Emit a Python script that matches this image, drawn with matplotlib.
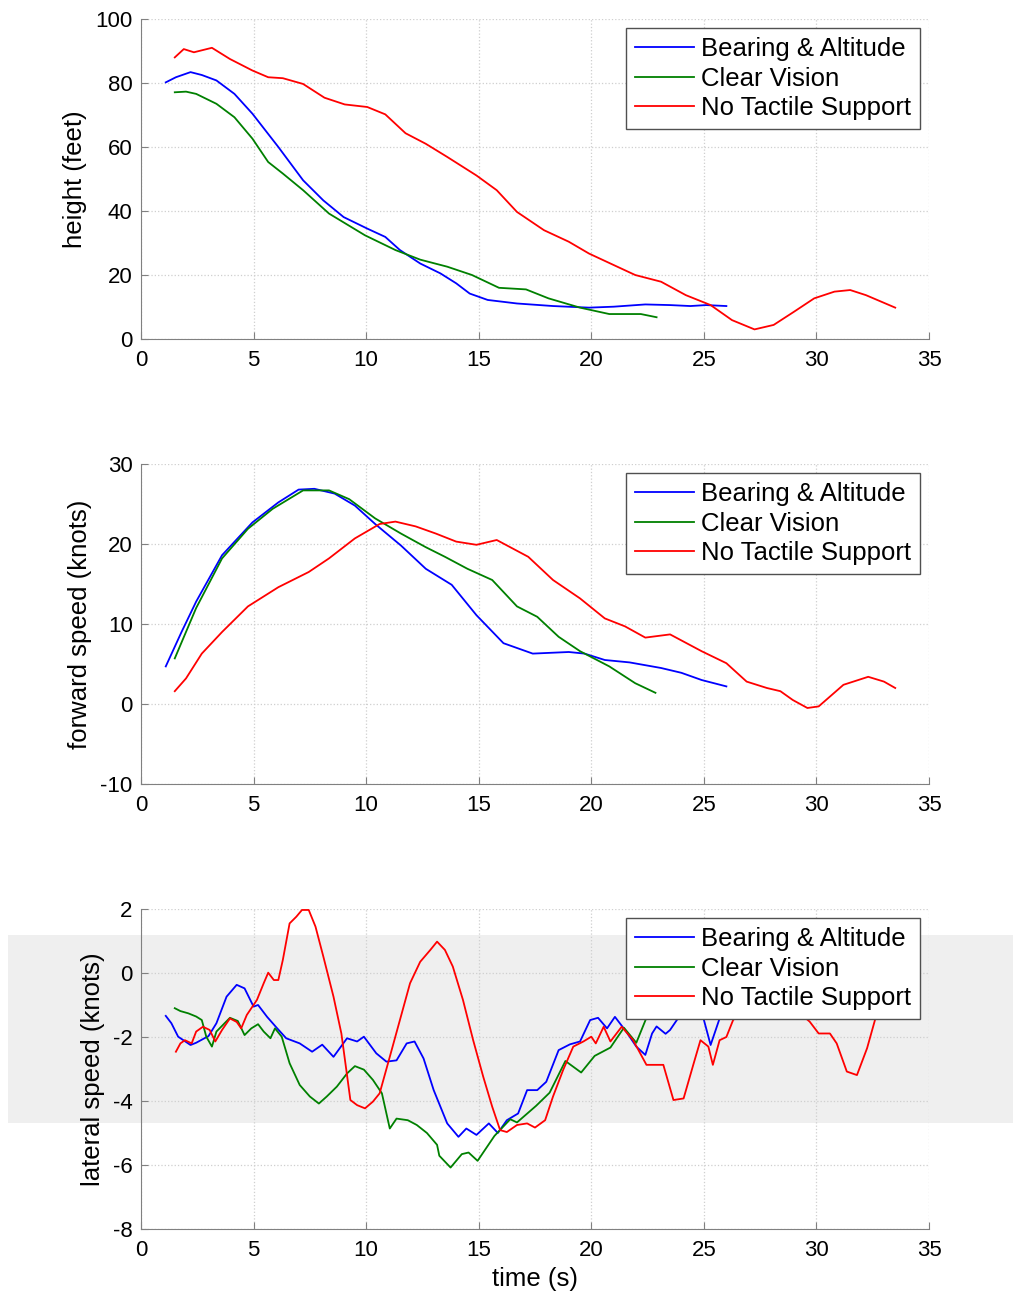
import numpy as np
import matplotlib
matplotlib.use('Agg')
import matplotlib.pyplot as plt
from matplotlib.patches import Rectangle

plt.rcParams['font.family'] = ['Liberation Sans', 'DejaVu Sans']
plt.rcParams['axes.unicode_minus'] = False

labels = ['Bearing & Altitude', 'Clear Vision', 'No Tactile Support']
colors = ['#0000ff', '#008000', '#ff0000']

# height (feet)
h_t_bear = [1.1, 1.55, 2.2, 2.7, 3.35, 4.15, 4.95, 6.1, 7.2, 8.1, 9.0, 10.05, 10.85, 11.5, 12.4,
            13.3, 14.0, 14.6, 15.4, 16.7, 18.3, 19.9, 21.0, 22.4, 23.5, 24.4, 25.1, 26.0]
h_bear = [80.2, 81.8, 83.4, 82.5, 80.8, 76.6, 70.4, 60.0, 49.6, 43.3, 38.1, 34.5, 31.9, 27.8, 23.6,
          20.5, 17.4, 14.2, 12.2, 11.1, 10.3, 9.8, 10.1, 10.8, 10.6, 10.3, 10.6, 10.3]
h_t_clear = [1.5, 2.0, 2.45, 3.35, 4.15, 4.95, 5.65, 6.3, 7.2, 8.35, 9.95, 11.3, 12.4, 13.6, 14.7,
             15.9, 17.1, 18.1, 19.5, 20.8, 22.2, 22.9]
h_clear = [77.1, 77.3, 76.6, 73.5, 69.3, 62.6, 55.3, 51.7, 46.5, 39.2, 32.4, 27.8, 24.8, 22.6, 20.0,
           16.0, 15.5, 12.7, 9.8, 7.8, 7.8, 6.8]
h_t_none = [1.5, 1.9, 2.35, 3.15, 3.95, 4.95, 5.65, 6.3, 7.2, 8.15, 9.05, 10.05, 10.85, 11.75, 12.65,
            13.6, 14.9, 15.8, 16.7, 17.9, 19.0, 19.9, 21.0, 21.95, 23.1, 24.2, 25.3, 26.25, 27.25,
            28.1, 29.0, 29.9, 30.8, 31.5, 32.2, 33.5]
h_none = [88.0, 90.6, 89.6, 91.0, 87.5, 83.9, 81.8, 81.5, 79.7, 75.4, 73.3, 72.5, 70.2, 64.3, 61.0,
          56.9, 51.1, 46.5, 39.7, 34.0, 30.4, 26.7, 23.1, 20.0, 17.9, 13.7, 10.6, 5.9, 3.0,
          4.4, 8.5, 12.7, 14.8, 15.3, 13.7, 9.8]

# forward speed (knots)
f_t_bear = [1.1, 1.8, 2.45, 3.6, 4.95, 6.1, 7.0, 7.7, 8.6, 9.5, 10.4, 11.55, 12.65, 13.8, 14.9,
            16.1, 17.4, 19.0, 19.7, 20.6, 21.7, 23.1, 24.0, 24.9, 26.0]
f_bear = [4.7, 9.0, 12.8, 18.6, 22.7, 25.2, 26.8, 26.9, 26.3, 24.8, 22.5, 19.8, 16.9, 14.9, 11.1,
          7.6, 6.3, 6.5, 6.3, 5.5, 5.2, 4.5, 3.9, 3.0, 2.2]
f_t_clear = [1.5, 2.45, 3.6, 4.75, 5.85, 7.2, 8.35, 9.25, 10.4, 11.55, 12.65, 13.5, 14.5, 15.6,
             16.7, 17.6, 18.55, 19.5, 20.8, 21.95, 22.85]
f_clear = [5.7, 12.0, 18.2, 21.9, 24.4, 26.7, 26.7, 25.6, 23.2, 21.3, 19.6, 18.4, 16.9, 15.5,
           12.2, 10.9, 8.4, 6.6, 4.7, 2.6, 1.4]
f_t_none = [1.5, 2.0, 2.7, 3.6, 4.75, 6.1, 7.45, 8.35, 9.5, 10.6, 11.3, 12.2, 13.1, 14.0, 14.9,
            15.8, 17.2, 18.3, 19.5, 20.6, 21.5, 22.4, 23.5, 24.9, 26.0, 26.9, 27.8, 28.4, 28.95,
            29.6, 30.1, 31.2, 32.3, 33.0, 33.5]
f_none = [1.6, 3.2, 6.3, 9.0, 12.2, 14.6, 16.5, 18.2, 20.7, 22.5, 22.8, 22.2, 21.3, 20.3, 19.9,
          20.5, 18.4, 15.5, 13.2, 10.7, 9.7, 8.3, 8.7, 6.6, 5.1, 2.8, 2.0, 1.6, 0.5,
          -0.5, -0.3, 2.4, 3.4, 2.8, 2.0]

# lateral speed (knots)
l_t_bear = [1.1, 1.35, 1.65, 2.2, 2.45, 3.0, 3.35, 3.8, 4.25, 4.6, 5.0, 5.2, 5.6, 6.05, 6.45, 7.05,
            7.6, 8.05, 8.55, 9.15, 9.6, 9.9, 10.45, 10.9, 11.35, 11.8, 12.15, 12.55, 13.0, 13.6,
            14.1, 14.45, 14.9, 15.45, 15.85, 16.25, 16.75, 17.15, 17.6, 18.0, 18.55, 19.05, 19.5,
            19.95, 20.3, 20.7, 21.05, 21.55, 22.0, 22.4, 22.7, 22.9, 23.3, 23.5, 23.8, 24.3, 24.9,
            25.3, 25.7, 26.0]
l_bear = [-1.34, -1.57, -1.99, -2.25, -2.18, -1.97, -1.57, -0.74, -0.37, -0.48, -1.05, -1.0,
          -1.37, -1.73, -2.04, -2.2, -2.46, -2.24, -2.62, -2.04, -2.14, -1.99, -2.51, -2.77, -2.73,
          -2.2, -2.14, -2.67, -3.66, -4.7, -5.12, -4.86, -5.06, -4.7, -5.0, -4.6, -4.39, -3.66,
          -3.66, -3.4, -2.41, -2.23, -2.14, -1.47, -1.4, -1.73, -1.37, -1.83, -2.3, -2.56, -1.89,
          -1.67, -1.9, -1.78, -1.47, -1.0, -1.2, -2.25, -1.42, -1.1]
l_t_clear = [1.5, 1.75, 2.1, 2.45, 2.7, 2.9, 3.15, 3.35, 3.95, 4.3, 4.6, 4.9, 5.2, 5.45, 5.75,
             5.95, 6.25, 6.6, 7.05, 7.5, 7.9, 8.25, 8.7, 9.15, 9.5, 9.9, 10.3, 10.7, 11.05, 11.35,
             11.85, 12.25, 12.7, 13.15, 13.25, 13.75, 14.25, 14.55, 14.95, 15.7, 16.4, 16.7,
             17.55, 18.15, 18.85, 19.55, 20.15, 20.85, 21.45, 22.0, 22.45, 22.9]
l_clear = [-1.1, -1.19, -1.26, -1.36, -1.47, -1.99, -2.3, -1.83, -1.4, -1.5, -1.94, -1.73, -1.6,
           -1.83, -2.04, -1.73, -1.99, -2.82, -3.5, -3.86, -4.08, -3.86, -3.55, -3.14, -2.91,
           -3.02, -3.34, -3.76, -4.86, -4.55, -4.6, -4.75, -5.0, -5.37, -5.71, -6.08, -5.66,
           -5.61, -5.87, -5.09, -4.57, -4.67, -4.15, -3.74, -2.75, -3.11, -2.59, -2.33, -1.71,
           -2.18, -1.4, -0.9]
l_t_none = [1.55, 1.75, 1.95, 2.25, 2.45, 2.75, 3.05, 3.3, 3.6, 3.95, 4.25, 4.45, 4.7, 5.15, 5.45,
            5.65, 5.9, 6.1, 6.3, 6.6, 6.9, 7.15, 7.45, 7.75, 8.1, 8.55, 8.9, 9.3, 9.6, 9.95, 10.3,
            10.6, 11.05, 11.5, 11.95, 12.4, 12.85, 13.15, 13.5, 13.85, 14.3, 14.75, 15.2, 15.6,
            15.95, 16.25, 16.7, 17.15, 17.5, 17.95, 18.3, 18.75, 19.2, 19.65, 20.0, 20.2, 20.55,
            20.85, 21.35, 21.85, 22.45, 23.2, 23.65, 24.1, 24.55, 24.85, 25.2, 25.4, 25.7, 26.0,
            26.3, 27.0, 28.0, 29.0, 29.7, 30.1, 30.6, 30.9, 31.35, 31.8, 32.25, 32.6, 32.7]
l_none = [-2.46, -2.2, -2.1, -2.2, -1.83, -1.68, -1.78, -2.14, -1.78, -1.42, -1.53, -1.73, -1.31,
          -0.84, -0.32, 0.01, -0.22, -0.22, 0.41, 1.55, 1.76, 1.97, 1.97, 1.45, 0.51, -0.74,
          -1.89, -3.97, -4.13, -4.23, -4.02, -3.76, -2.62, -1.47, -0.32, 0.35, 0.72, 0.98, 0.72,
          0.2, -0.84, -2.09, -3.24, -4.18, -4.91, -4.97, -4.75, -4.7, -4.83, -4.6, -3.86, -3.03,
          -2.3, -2.14, -1.99, -2.2, -1.68, -2.14, -1.68, -2.09, -2.87, -2.87, -3.97, -3.92,
          -2.82, -2.1, -2.3, -2.87, -2.1, -2.0, -1.47, -1.0, -0.9, -1.1, -1.52, -1.89, -1.89,
          -2.2, -3.08, -3.19, -2.35, -1.47, -1.2]

panels = [
    ([h_t_bear, h_t_clear, h_t_none], [h_bear, h_clear, h_none], 'height (feet)', (0, 100), 20),
    ([f_t_bear, f_t_clear, f_t_none], [f_bear, f_clear, f_none], 'forward speed (knots)', (-10, 30), 10),
    ([l_t_bear, l_t_clear, l_t_none], [l_bear, l_clear, l_none], 'lateral speed (knots)', (-8, 2), 2),
]

fig = plt.figure(figsize=(10.13, 12.93), dpi=100)
bottoms = [1 - 339 / 1293, 1 - 784 / 1293, 1 - 1229 / 1293]
axes = []
for (ts, vs, ylab, ylim, ystep), b in zip(panels, bottoms):
    ax = fig.add_axes([141 / 1013, b, 788 / 1013, 320 / 1293])
    for t, v, c, lab in zip(ts, vs, colors, labels):
        ax.plot(t, v, color=c, lw=1.3, label=lab)
    ax.set_xlim(0, 35)
    ax.set_ylim(*ylim)
    ax.set_xticks(np.arange(0, 36, 5))
    ax.set_yticks(np.arange(ylim[0], ylim[1] + 0.1, ystep))
    ax.grid(True, color='#cfcfcf', linestyle=':', linewidth=0.9)
    ax.spines['top'].set_visible(False)
    ax.spines['right'].set_visible(False)
    ax.spines['left'].set_color('#808080')
    ax.spines['bottom'].set_color('#808080')
    ax.tick_params(direction='in', length=5, labelsize=16, color='#808080')
    ax.tick_params(axis='x', pad=8)
    ax.tick_params(axis='y', pad=6)
    ax.set_ylabel(ylab, fontsize=18.5, labelpad=6)
    leg = ax.legend(loc='upper right', bbox_to_anchor=(0.989, 0.972), fontsize=18.5,
                    fancybox=False, framealpha=1, edgecolor='#505050', handlelength=2.3,
                    handletextpad=0.3, labelspacing=0.22, borderpad=0.35, borderaxespad=0)
    leg.get_frame().set_linewidth(1.0)
    axes.append(ax)

axes[2].set_xlabel('time (s)', fontsize=18.5, labelpad=4)

# grey scan band across the lower panel
band = Rectangle((8 / 1013, 1 - 1123 / 1293), 1, 188 / 1293, transform=fig.transFigure,
                 facecolor='#efefef', edgecolor='none', zorder=1.0, clip_on=False)
axes[2].add_patch(band)

fig.savefig('out.png', dpi=100)
